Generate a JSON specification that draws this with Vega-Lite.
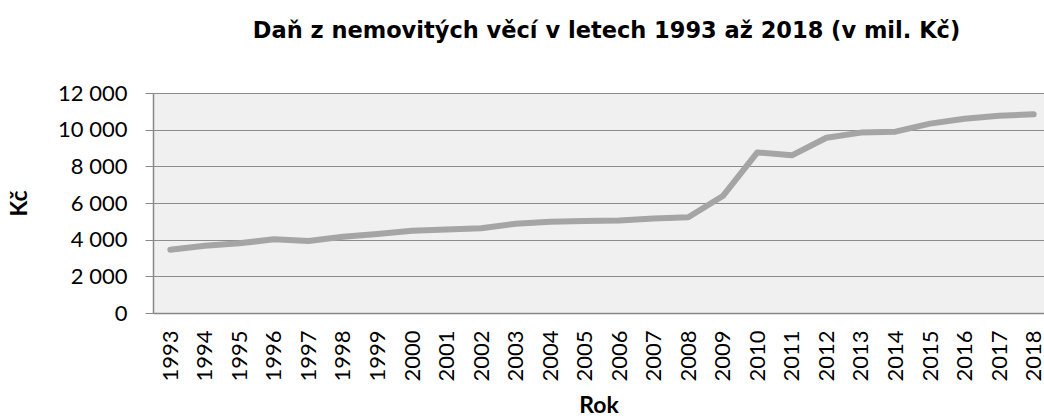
{
  "$schema": "https://vega.github.io/schema/vega-lite/v6.json",
  "autosize": "none",
  "width": 891,
  "height": 220,
  "padding": {"left": 153, "top": 93, "right": 0, "bottom": 106},
  "background": "#ffffff",
  "title": {
    "text": "Daň z nemovitých věcí v letech 1993 až 2018  (v mil. Kč)",
    "font": "DejaVu Sans",
    "fontSize": 22.5,
    "fontWeight": "bold",
    "color": "#000000",
    "anchor": "middle",
    "frame": "group",
    "baseline": "alphabetic",
    "offset": 22,
    "dx": 8
  },
  "data": {
    "values": [
      {"Rok": 1993, "Kc": 3450},
      {"Rok": 1994, "Kc": 3670},
      {"Rok": 1995, "Kc": 3800},
      {"Rok": 1996, "Kc": 4020},
      {"Rok": 1997, "Kc": 3930},
      {"Rok": 1998, "Kc": 4160},
      {"Rok": 1999, "Kc": 4310},
      {"Rok": 2000, "Kc": 4490},
      {"Rok": 2001, "Kc": 4560},
      {"Rok": 2002, "Kc": 4620},
      {"Rok": 2003, "Kc": 4870},
      {"Rok": 2004, "Kc": 4980},
      {"Rok": 2005, "Kc": 5020},
      {"Rok": 2006, "Kc": 5050},
      {"Rok": 2007, "Kc": 5160},
      {"Rok": 2008, "Kc": 5220},
      {"Rok": 2009, "Kc": 6380},
      {"Rok": 2010, "Kc": 8760},
      {"Rok": 2011, "Kc": 8600},
      {"Rok": 2012, "Kc": 9560},
      {"Rok": 2013, "Kc": 9840},
      {"Rok": 2014, "Kc": 9890},
      {"Rok": 2015, "Kc": 10330},
      {"Rok": 2016, "Kc": 10600},
      {"Rok": 2017, "Kc": 10760},
      {"Rok": 2018, "Kc": 10840}
    ]
  },
  "mark": {"type": "line", "color": "#a5a5a5", "strokeWidth": 6, "strokeCap": "round", "strokeJoin": "round", "clip": false},
  "encoding": {
    "x": {
      "field": "Rok",
      "type": "quantitative",
      "scale": {"domain": [1992.5, 2018.3], "nice": false, "zero": false},
      "axis": {
        "title": "Rok",
        "values": [1993,1994,1995,1996,1997,1998,1999,2000,2001,2002,2003,2004,2005,2006,2007,2008,2009,2010,2011,2012,2013,2014,2015,2016,2017,2018],
        "format": "d",
        "labelAngle": -90,
        "labelAlign": "right",
        "labelBaseline": "middle",
        "labelPadding": 17,
        "labelFont": "Lato",
        "labelFontSize": 22,
        "labelColor": "#000000",
        "labelOverlap": false,
        "labelFlush": false,
        "ticks": false,
        "grid": false,
        "domain": true,
        "domainColor": "#888888",
        "domainWidth": 1.5,
        "titleFont": "Lato",
        "titleFontSize": 23,
        "titleFontWeight": "bold",
        "titleColor": "#000000",
        "titlePadding": 13
      }
    },
    "y": {
      "field": "Kc",
      "type": "quantitative",
      "scale": {"domain": [0, 12000], "nice": false},
      "axis": {
        "title": "Kč",
        "values": [0, 2000, 4000, 6000, 8000, 10000, 12000],
        "labelExpr": "replace(format(datum.value, ','), ',', ' ')",
        "labelFont": "Lato",
        "labelFontSize": 22,
        "labelColor": "#000000",
        "labelPadding": 18,
        "tickSize": 8,
        "tickColor": "#888888",
        "domainColor": "#888888",
        "domainWidth": 1.5,
        "grid": true,
        "gridColor": "#8c8c8c",
        "gridWidth": 1,
        "titleFont": "Lato",
        "titleFontSize": 23,
        "titleFontWeight": "bold",
        "titleColor": "#000000",
        "titlePadding": 26
      }
    }
  },
  "config": {
    "view": {"stroke": null, "fill": "#f0f0f0"}
  }
}
